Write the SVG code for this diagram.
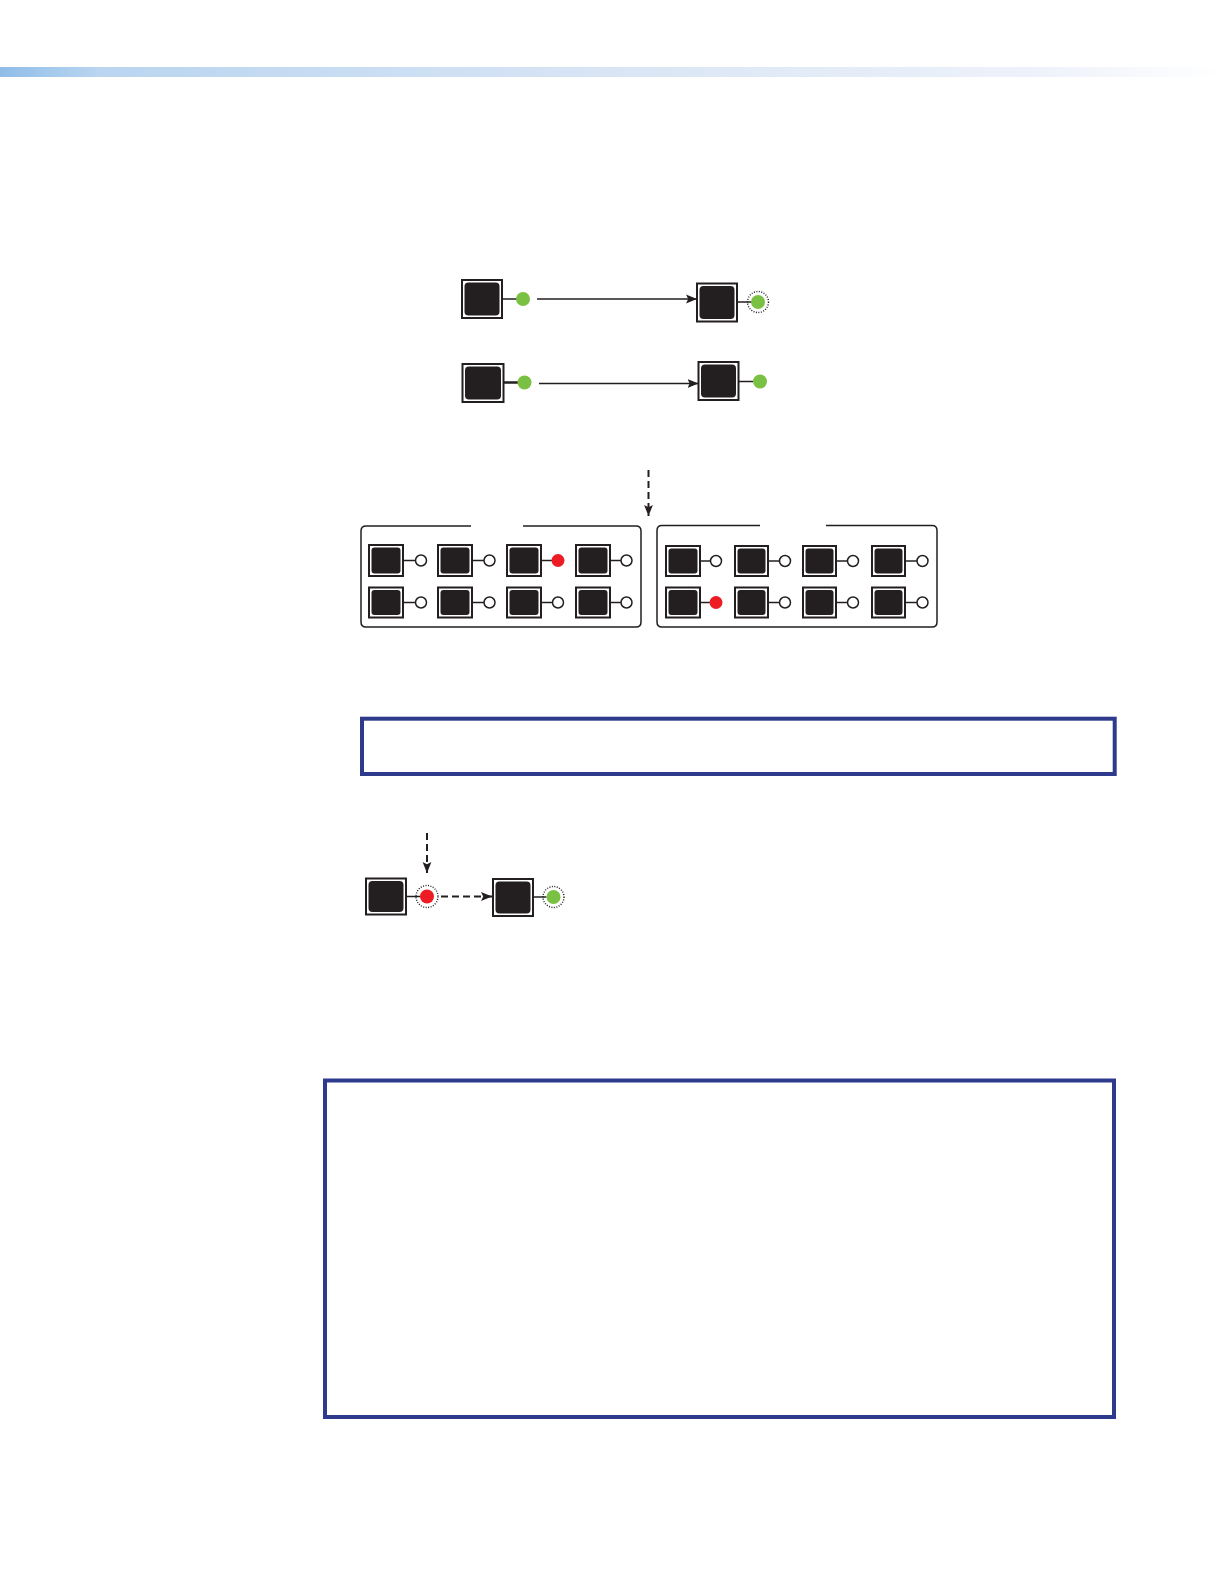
<svg xmlns="http://www.w3.org/2000/svg" width="1224" height="1584" viewBox="0 0 1224 1584">
<defs>
<linearGradient id="hdr" x1="0" y1="0" x2="1" y2="0">
<stop offset="0" stop-color="#8fbde8"/>
<stop offset="0.08" stop-color="#b9d5f0"/>
<stop offset="0.5" stop-color="#d9e5f5"/>
<stop offset="0.85" stop-color="#eef2fa"/>
<stop offset="1" stop-color="#ffffff"/>
</linearGradient>
<marker id="ah" viewBox="0 0 10 10" refX="10" refY="5" markerWidth="11" markerHeight="11" markerUnits="userSpaceOnUse" orient="auto">
<path d="M0,1 L10,5 L0,9 L2,5 Z" fill="#231f20"/>
</marker>
</defs>
<style>
.bo{fill:#ffffff;stroke:#231f20;stroke-width:2}
.bi{fill:#231f20}
.ln{stroke:#231f20;stroke-width:1.5;fill:none}
.ds{stroke:#231f20;stroke-width:2;fill:none;stroke-dasharray:7 4}
.g{fill:#7ac143}
.r{fill:#ed1c24}
.o{fill:#ffffff;stroke:#231f20;stroke-width:1.5}
.halo{fill:none;stroke:#231f20;stroke-width:1.4;stroke-dasharray:1 1.5}
.pn{fill:none;stroke:#231f20;stroke-width:1.5}
.nb{fill:none;stroke:#2e3a8c;stroke-width:4}
</style>
<rect x="0" y="67" width="1224" height="10" fill="url(#hdr)"/>

<g id="top-row1">
<g id="btn-a1"><rect class="bo" x="462" y="280" width="40" height="38"/><rect class="bi" x="464.5" y="282.5" width="35" height="33" rx="4"/></g>
<line class="ln" x1="502" y1="299" x2="517" y2="299"/>
<circle class="g" cx="523" cy="299" r="7"/>
<g id="btn-a2"><rect class="bo" x="697" y="283.5" width="40" height="38"/><rect class="bi" x="699.5" y="286" width="35" height="33" rx="4"/></g>
<line class="ln" x1="737" y1="302" x2="752" y2="302"/>
<circle class="g" cx="758" cy="302" r="7"/>
<circle class="halo" cx="758" cy="302" r="10.5"/>
</g>

<g id="top-row2">
<g id="btn-b1"><rect class="bo" x="462.5" y="364" width="41" height="38"/><rect class="bi" x="465" y="366.5" width="36" height="33" rx="4"/></g>
<line class="ln" x1="503.5" y1="382.5" x2="518" y2="382.5" style="stroke-width:2.5"/>
<circle class="g" cx="524.5" cy="382.5" r="7"/>
<g id="btn-b2"><rect class="bo" x="698.5" y="362" width="40" height="38"/><rect class="bi" x="701" y="364.5" width="35" height="33" rx="4"/></g>
<line class="ln" x1="738.5" y1="381.5" x2="753" y2="381.5"/>
<circle class="g" cx="760" cy="381.5" r="7"/>
</g>

<g id="panel1">
<path class="pn" d="M471,526 L366,526 Q361,526 361,531 L361,622 Q361,627 366,627 L636,627 Q641,627 641,622 L641,531 Q641,526 636,526 L523,526"/>
<g id="p1r1">
<rect class="bo" x="369" y="545" width="34" height="31"/><rect class="bi" x="371.5" y="547.5" width="29" height="26" rx="3"/>
<line class="ln" x1="403" y1="560.5" x2="415.5" y2="560.5"/><circle class="o" cx="421" cy="560.5" r="5.5"/>
<rect class="bo" x="438" y="545" width="34" height="31"/><rect class="bi" x="440.5" y="547.5" width="29" height="26" rx="3"/>
<line class="ln" x1="472" y1="560.5" x2="484" y2="560.5"/><circle class="o" cx="489.5" cy="560.5" r="5.5"/>
<rect class="bo" x="507" y="545" width="34" height="31"/><rect class="bi" x="509.5" y="547.5" width="29" height="26" rx="3"/>
<line class="ln" x1="541" y1="560.5" x2="552" y2="560.5"/><circle class="r" cx="558" cy="560.5" r="6.5"/>
<rect class="bo" x="576" y="545" width="34" height="31"/><rect class="bi" x="578.5" y="547.5" width="29" height="26" rx="3"/>
<line class="ln" x1="610" y1="560.5" x2="621" y2="560.5"/><circle class="o" cx="626.5" cy="560.5" r="5.5"/>
</g>
<g id="p1r2">
<rect class="bo" x="369" y="587.5" width="34" height="30"/><rect class="bi" x="371.5" y="590" width="29" height="25" rx="3"/>
<line class="ln" x1="403" y1="602.5" x2="415.5" y2="602.5"/><circle class="o" cx="421" cy="602.5" r="5.5"/>
<rect class="bo" x="438" y="587.5" width="34" height="30"/><rect class="bi" x="440.5" y="590" width="29" height="25" rx="3"/>
<line class="ln" x1="472" y1="602.5" x2="484" y2="602.5"/><circle class="o" cx="489.5" cy="602.5" r="5.5"/>
<rect class="bo" x="507" y="587.5" width="34" height="30"/><rect class="bi" x="509.5" y="590" width="29" height="25" rx="3"/>
<line class="ln" x1="541" y1="602.5" x2="552.5" y2="602.5"/><circle class="o" cx="558" cy="602.5" r="5.5"/>
<rect class="bo" x="576" y="587.5" width="34" height="30"/><rect class="bi" x="578.5" y="590" width="29" height="25" rx="3"/>
<line class="ln" x1="610" y1="602.5" x2="621" y2="602.5"/><circle class="o" cx="626.5" cy="602.5" r="5.5"/>
</g>
</g>

<g id="panel2">
<path class="pn" d="M760,525.5 L662,525.5 Q657,525.5 657,530.5 L657,622 Q657,627 662,627 L932,627 Q937,627 937,622 L937,530.5 Q937,525.5 932,525.5 L826,525.5"/>
<g id="p2r1">
<rect class="bo" x="666" y="546" width="34" height="30"/><rect class="bi" x="668.5" y="548.5" width="29" height="25" rx="3"/>
<line class="ln" x1="700" y1="561" x2="710.5" y2="561"/><circle class="o" cx="716" cy="561" r="5.5"/>
<rect class="bo" x="735" y="546" width="33" height="30"/><rect class="bi" x="737.5" y="548.5" width="28" height="25" rx="3"/>
<line class="ln" x1="768" y1="561" x2="779.5" y2="561"/><circle class="o" cx="785" cy="561" r="5.5"/>
<rect class="bo" x="803" y="546" width="33" height="30"/><rect class="bi" x="805.5" y="548.5" width="28" height="25" rx="3"/>
<line class="ln" x1="836" y1="561" x2="847.5" y2="561"/><circle class="o" cx="853" cy="561" r="5.5"/>
<rect class="bo" x="872" y="546" width="33" height="30"/><rect class="bi" x="874.5" y="548.5" width="28" height="25" rx="3"/>
<line class="ln" x1="905" y1="561" x2="917" y2="561"/><circle class="o" cx="922.5" cy="561" r="5.5"/>
</g>
<g id="p2r2">
<rect class="bo" x="666" y="587.5" width="34" height="30"/><rect class="bi" x="668.5" y="590" width="29" height="25" rx="3"/>
<line class="ln" x1="700" y1="602.5" x2="710" y2="602.5"/><circle class="r" cx="716" cy="602.5" r="6.5"/>
<rect class="bo" x="735" y="587.5" width="33" height="30"/><rect class="bi" x="737.5" y="590" width="28" height="25" rx="3"/>
<line class="ln" x1="768" y1="602.5" x2="779.5" y2="602.5"/><circle class="o" cx="785" cy="602.5" r="5.5"/>
<rect class="bo" x="803" y="587.5" width="33" height="30"/><rect class="bi" x="805.5" y="590" width="28" height="25" rx="3"/>
<line class="ln" x1="836" y1="602.5" x2="847.5" y2="602.5"/><circle class="o" cx="853" cy="602.5" r="5.5"/>
<rect class="bo" x="872" y="587.5" width="33" height="30"/><rect class="bi" x="874.5" y="590" width="28" height="25" rx="3"/>
<line class="ln" x1="905" y1="602.5" x2="917" y2="602.5"/><circle class="o" cx="922.5" cy="602.5" r="5.5"/>
</g>
</g>

<g id="bottom-seq">
<g id="btn-c1"><rect class="bo" x="366" y="878.5" width="40" height="36"/><rect class="bi" x="368.5" y="881" width="35" height="31" rx="4"/></g>
<line class="ln" x1="406" y1="896.5" x2="420" y2="896.5"/>
<circle class="r" cx="427" cy="896.5" r="7"/>
<circle class="halo" cx="427" cy="896.5" r="11"/>
<g id="btn-c2"><rect class="bo" x="493" y="879" width="40" height="37"/><rect class="bi" x="495.5" y="881.5" width="35" height="32" rx="4"/></g>
<line class="ln" x1="533" y1="897" x2="546.5" y2="897"/>
<circle class="g" cx="553.5" cy="897" r="7"/>
<circle class="halo" cx="553.5" cy="897" r="10.5"/>
</g>

<g id="note1"><rect class="nb" x="362" y="718.7" width="752.7" height="55.3"/></g>
<g id="note2"><rect class="nb" x="325" y="1080.5" width="789" height="336.5"/></g>

<g id="connectors">
<line class="ln" x1="537" y1="299" x2="697" y2="299" marker-end="url(#ah)"/>
<line class="ln" x1="539" y1="383.5" x2="698.5" y2="383.5" marker-end="url(#ah)"/>
<line class="ds" x1="648.5" y1="470" x2="648.5" y2="516" marker-end="url(#ah)"/>
<line class="ds" x1="427" y1="833" x2="427" y2="873" marker-end="url(#ah)"/>
<line class="ds" x1="441" y1="896.5" x2="492" y2="896.5" marker-end="url(#ah)"/>
</g>
</svg>
